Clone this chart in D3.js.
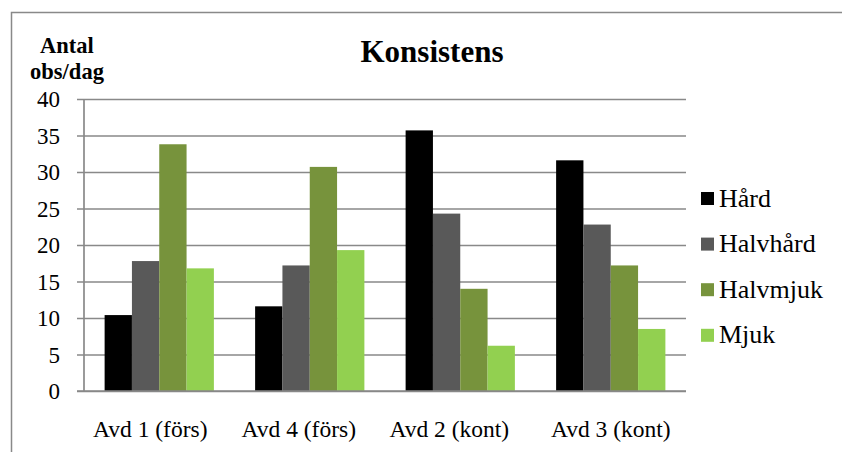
<!DOCTYPE html>
<html>
<head>
<meta charset="utf-8">
<script src="https://cdn.jsdelivr.net/npm/d3@7"></script>
<style>
  html, body { margin: 0; padding: 0; background: #fff; }
  svg { display: block; }
  svg text { font-family: "Liberation Serif", "Times New Roman", serif; fill: #000; }
</style>
</head>
<body>
<div id="chart"></div>
<script>
// Observations per day, by ward and stool consistency
const categories = ["Avd 1 (förs)", "Avd 4 (förs)", "Avd 2 (kont)", "Avd 3 (kont)"];
const seriesNames = ["Hård", "Halvhård", "Halvmjuk", "Mjuk"];
const hard     = [10.4, 11.6, 35.7, 31.6];
const halfHard = [17.8, 17.2, 24.3, 22.8];
const halfSoft = [33.8, 30.7, 14.0, 17.2];
const soft     = [16.8, 19.3, 6.2, 8.5];
const yTicks = [0, 5, 10, 15, 20, 25, 30, 35, 40];
const colors = ["#000000", "#595959", "#77933C", "#92D050"];

const seriesValues = [hard, halfHard, halfSoft, soft];

const W = 842, H = 452;
const plot = { left: 84, right: 686, top: 99, bottom: 391 };
const serif = '"Liberation Serif", "Times New Roman", serif';
const gridColor = "#898989";
// small horizontal nudges for the category labels
const labelShift = [-9, -11, -11, 0];

const svg = d3.select("#chart").append("svg")
  .attr("width", W).attr("height", H)
  .attr("font-family", serif);

// outer chart frame (extends past the right and bottom edge)
svg.append("rect")
  .attr("x", 11.5).attr("y", 12.5)
  .attr("width", W + 20).attr("height", H + 20)
  .attr("fill", "none").attr("stroke", gridColor).attr("stroke-width", 1.5);

const x0 = d3.scaleBand().domain(categories).range([plot.left, plot.right])
  .paddingInner(0.274).paddingOuter(0.137);
const x1 = d3.scaleBand().domain(seriesNames).range([0, x0.bandwidth()]);
const y = d3.scaleLinear().domain([0, 40]).range([plot.bottom, plot.top]);

// horizontal gridlines with outside tick marks
const yAxis = d3.axisLeft(y).tickValues(yTicks)
  .tickSize(-(plot.right - plot.left)).tickSizeOuter(0).tickPadding(0);
const gy = svg.append("g").attr("transform", `translate(${plot.left},0)`).call(yAxis)
  .attr("font-family", serif);
gy.select(".domain").remove();
gy.selectAll(".tick line")
  .attr("x1", -7)
  .attr("stroke", gridColor).attr("stroke-width", 1.7);
gy.selectAll(".tick text")
  .attr("x", -24).attr("dy", "0.34em")
  .style("font-family", serif)
  .style("font-size", "23px").attr("fill", "#000");

// vertical axis line
svg.append("line")
  .attr("x1", plot.left).attr("x2", plot.left).attr("y1", plot.top).attr("y2", plot.bottom)
  .attr("stroke", gridColor).attr("stroke-width", 1.7);

// bars
const groups = svg.append("g").selectAll("g")
  .data(categories)
  .join("g")
  .attr("transform", d => `translate(${x0(d)},0)`);

groups.selectAll("rect")
  .data((c, ci) => seriesNames.map((s, si) => ({ s, si, v: seriesValues[si][ci] })))
  .join("rect")
  .attr("x", d => x1(d.s))
  .attr("width", x1.bandwidth())
  .attr("y", d => y(d.v))
  .attr("height", d => y(0) - y(d.v))
  .attr("fill", d => colors[d.si]);

// baseline drawn over the bars
svg.append("line")
  .attr("x1", plot.left - 7).attr("x2", plot.right).attr("y1", plot.bottom).attr("y2", plot.bottom)
  .attr("stroke", gridColor).attr("stroke-width", 1.7);

// category labels
const xAxis = d3.axisBottom(x0).tickSize(0).tickPadding(0);
const gx = svg.append("g").attr("transform", `translate(0,${plot.bottom})`).call(xAxis)
  .attr("font-family", serif);
gx.select(".domain").remove();
gx.selectAll(".tick text")
  .attr("y", 46).attr("dy", 0)
  .attr("x", (d, i) => labelShift[i])
  .attr("text-anchor", "middle")
  .style("font-family", serif)
  .style("font-size", "23.5px").attr("fill", "#000");

// title
svg.append("text")
  .attr("x", 432).attr("y", 62)
  .attr("text-anchor", "middle")
  .style("font-size", "31px").style("font-weight", "bold")
  .text("Konsistens");

// axis title
const yl = svg.append("text")
  .attr("text-anchor", "middle")
  .style("font-size", "22.5px").style("font-weight", "bold");
yl.append("tspan").attr("x", 67).attr("y", 53).text("Antal");
yl.append("tspan").attr("x", 67).attr("y", 79).text("obs/dag");

// legend
const legend = svg.append("g").selectAll("g")
  .data(seriesNames)
  .join("g")
  .attr("transform", (d, i) => `translate(701,${192 + i * 45.6})`);
legend.append("rect")
  .attr("width", 13).attr("height", 13)
  .attr("fill", (d, i) => colors[i]);
legend.append("text")
  .attr("x", 18).attr("y", 14.5)
  .style("font-size", "26px")
  .text(d => d);
</script>
</body>
</html>
